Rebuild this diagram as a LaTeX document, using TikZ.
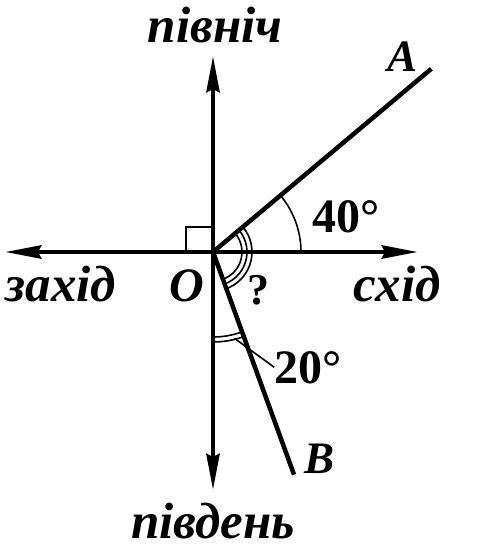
\documentclass[tikz,border=0pt]{standalone}
\usepackage{fontspec}
\setmainfont{Liberation Serif}
\usetikzlibrary{arrows.meta}
\begin{document}
\begin{tikzpicture}[x=1pt,y=1pt,
  axis/.style={line width=4.5pt,-{Stealth[length=36pt,width=13pt,inset=3pt]}},
  ray/.style={line width=4.5pt},
  arcline/.style={line width=1.6pt},
  word/.style={font=\fontsize{51}{51}\selectfont\bfseries\itshape, inner sep=0pt, anchor=base},
  pt/.style={font=\fontsize{48}{48}\selectfont\bfseries\itshape, inner sep=0pt, anchor=base},
  ptsmall/.style={font=\fontsize{45}{45}\selectfont\bfseries\itshape, inner sep=0pt, anchor=base},
  num/.style={font=\fontsize{48}{48}\selectfont\bfseries, inner sep=0pt, anchor=base}]
\useasboundingbox (-213,-296) rectangle (266,252);
\coordinate (O) at (0,0);
\coordinate (N) at (0,196);
\coordinate (S) at (0,-238);
\coordinate (W) at (-208,0);
\coordinate (E) at (205,0);
\coordinate (A) at (40:285);
\coordinate (B) at (-70:237);
% right angle mark
\draw[line width=2.2pt] (-27,0) -- (-27,25) -- (0,25);
% axes
\draw[axis] (O) -- (N);
\draw[axis] (O) -- (S);
\draw[axis] (O) -- (W);
\draw[axis] (O) -- (E);
% rays
\draw[ray] (O) -- (A);
\draw[ray] (O) -- (B);
% 40 deg arc
\draw[arcline] (0:88) arc[start angle=0,end angle=40,radius=88];
% triple arc
\foreach \r in {29,34,39} \draw[arcline] (40:\r) arc[start angle=40,end angle=-70,radius=\r];
% double arc
\foreach \r in {85,90} \draw[arcline] (-90:\r) arc[start angle=-90,end angle=-70,radius=\r];
% labels
\node[word] (north) at (2,209) {північ};
\node[word] (south) at (0,-286) {південь};
\node[word] (west) at (-152,-50) {захід};
\node[word] (east) at (184,-50) {схід};
\node[pt] (o) at (-26,-50) {O};
\node[num,font=\fontsize{44}{44}\selectfont\bfseries] (q) at (45,-53) {?};
\node[num] (a40) at (133,19) {40°};
\node[num] (a20) at (95,-131) {20°};
\node[ptsmall] (la) at (190,180) {A};
\node[ptsmall] (lb) at (107,-221) {B};
\coordinate (lead) at (-76:89);
\draw[line width=1.6pt] (lead) -- (a20.west);
\end{tikzpicture}
\end{document}
